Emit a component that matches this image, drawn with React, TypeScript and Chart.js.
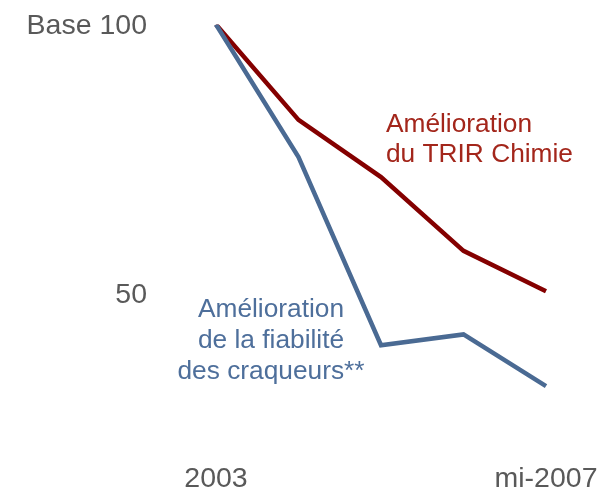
import React, { useEffect, useRef } from "react";
import { Chart, registerables } from "chart.js";

Chart.register(...registerables);

const categories = ["2003", "2004", "2005", "2006", "mi-2007"];
const trirValues = [100, 82.3, 71.7, 58.0, 50.5];
const crackerValues = [100, 75.4, 40.5, 42.5, 32.9];
const yTickValues = [50, 100];
const yTickLabels = ["50", "Base 100"];
const shownXLabels = ["2003", "mi-2007"];
const trirLabelLines = ["Amélioration", "du TRIR Chimie"];
const crackerLabelLines = ["Amélioration", "de la fiabilité", "des craqueurs**"];

const FONT = 'Arial, "Liberation Sans", sans-serif';
const RED_LINE = "#840000";
const BLUE_LINE = "#4A6A93";
const RED_TEXT = "#A3261B";
const BLUE_TEXT = "#4E6F9B";
const GREY_TEXT = "#595959";

const annotationPlugin = {
  id: "seriesLabels",
  afterDatasetsDraw(chart: any) {
    const { ctx, scales } = chart;
    const x = scales.x;
    const y = scales.y;
    const items = [
      { lines: trirLabelLines, xv: 2.06, yv: 80.06, align: "left", color: RED_TEXT, step: 30 },
      { lines: crackerLabelLines, xv: 0.667, yv: 45.73, align: "center", color: BLUE_TEXT, step: 31 },
    ];
    ctx.save();
    ctx.font = `26.3px ${FONT}`;
    ctx.textBaseline = "alphabetic";
    for (const it of items) {
      const px = x.getPixelForValue(it.xv);
      const py = y.getPixelForValue(it.yv);
      ctx.fillStyle = it.color;
      ctx.textAlign = it.align as CanvasTextAlign;
      it.lines.forEach((line, i) => ctx.fillText(line, px, py + i * it.step));
    }
    ctx.restore();
  },
};

export default function App() {
  const ref = useRef<HTMLCanvasElement | null>(null);
  useEffect(() => {
    if (!ref.current) return;
    const chart = new Chart(ref.current, {
      type: "line",
      data: {
        labels: categories,
        datasets: [
          {
            label: "Fiabilité des craqueurs",
            data: crackerValues,
            borderColor: BLUE_LINE,
            borderWidth: 4.5,
            pointRadius: 0,
            tension: 0,
            fill: false,
          },
          {
            label: "TRIR Chimie",
            data: trirValues,
            borderColor: RED_LINE,
            borderWidth: 4.5,
            pointRadius: 0,
            tension: 0,
            fill: false,
          },
        ],
      },
      options: {
        animation: false,
        responsive: false,
        maintainAspectRatio: false,
        layout: { padding: { top: 24.5, right: 56, bottom: 0, left: 0 } },
        plugins: { legend: { display: false }, tooltip: { enabled: false } },
        scales: {
          x: {
            type: "category",
            offset: false,
            grid: { display: false, drawTicks: false },
            border: { display: false },
            ticks: {
              autoSkip: false,
              maxRotation: 0,
              minRotation: 0,
              padding: 11,
              color: GREY_TEXT,
              font: { family: FONT, size: 28.5 },
              callback: (_v: any, i: number) =>
                i === 0 ? shownXLabels[0] : i === categories.length - 1 ? shownXLabels[1] : "",
            },
            afterFit: (s: any) => {
              s.height = 40;
              s.paddingLeft = 0;
              s.paddingRight = 0;
            },
          },
          y: {
            min: 20.87,
            max: 100,
            grid: { display: false, drawTicks: false },
            border: { display: false },
            afterBuildTicks: (s: any) => {
              s.ticks = yTickValues.map((v) => ({ value: v }));
            },
            ticks: {
              padding: 69,
              labelOffset: 1.5,
              color: GREY_TEXT,
              font: { family: FONT, size: 28.5 },
              callback: (v: any) => yTickLabels[yTickValues.indexOf(Number(v))] ?? "",
            },
            afterFit: (s: any) => {
              s.width = 216;
              s.paddingTop = 0;
              s.paddingBottom = 0;
            },
          },
        },
      },
      plugins: [annotationPlugin],
    });
    return () => chart.destroy();
  }, []);
  return (
    <div style={{ position: "fixed", left: 0, top: 0, width: 602, height: 491, background: "#fff" }}>
      <canvas ref={ref} width={602} height={491} style={{ width: 602, height: 491 }} />
    </div>
  );
}
